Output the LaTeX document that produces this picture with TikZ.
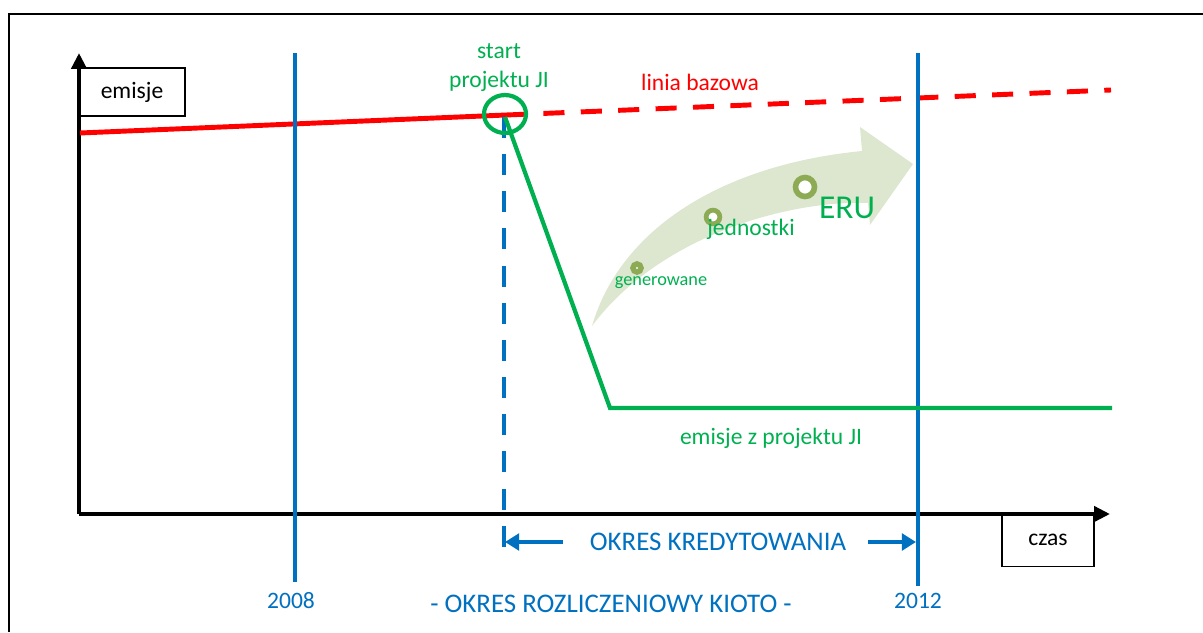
\documentclass[tikz,border=0pt]{standalone}
\usepackage{fontspec}
\setmainfont{Carlito}
\usetikzlibrary{arrows.meta,shapes.geometric}
\definecolor{jred}{RGB}{255,0,0}
\definecolor{jgreen}{RGB}{0,176,80}
\definecolor{jblue}{RGB}{0,112,192}
\definecolor{arrowfill}{RGB}{221,231,208}
\definecolor{olivering}{RGB}{141,170,84}
\begin{document}
\begin{tikzpicture}[x=0.02cm,y=-0.02cm,
  lbl/.style={font=\fontsize{13.4}{16}\selectfont, inner sep=0pt, anchor=base},
  capslbl/.style={lbl, font=\fontsize{15.3}{18}\selectfont},
  labelbox/.style={draw=black, line width=0.9pt, fill=white, inner sep=0pt, font=\fontsize{13.4}{16}\selectfont},
  axisline/.style={line width=2.5pt, -{Triangle[length=9pt,width=8.5pt]}},
  yearline/.style={jblue, line width=2.7pt},
  bluearrow/.style={jblue, line width=2.6pt, -{Triangle[length=8pt,width=9.4pt]}},
  ring/.style={olivering, fill=white},
]
\useasboundingbox (0,0) rectangle (1203,632);
% outer frame
\draw[line width=1.1pt] (9,632) -- (9,14) -- (1203,14);

% big light arrow
\fill[arrowfill] (592,326) .. controls (620,230) and (720,165) .. (862,151)
  -- (860,127) -- (913,164) -- (870,225) -- (868,203)
  .. controls (790,200) and (660,235) .. (592,326) -- cycle;

% boxes
\node[labelbox, minimum width=60.3pt, minimum height=27.3pt] (emisje) at (132,92) {emisje};
\node[labelbox, minimum width=52.3pt, minimum height=30.2pt] (czas) at (1048,540) {czas};

% axes
\coordinate (O) at (79,514);
\coordinate (ytip) at (79,53);
\coordinate (xtip) at (1110,514);
\draw[axisline] (O) -- (ytip);
\draw[axisline] (O) -- (xtip);

% red baseline
\coordinate (r0) at (80,133);
\coordinate (r1) at (506,115);
\coordinate (r2) at (1111,90);
\draw[jred, line width=2.8pt] (r0) -- (r1);
\draw[jred, line width=2.8pt, dash pattern=on 12pt off 9.3pt] (r1) -- (r2);

% blue year lines
\coordinate (y08a) at (295,53);
\coordinate (y08b) at (295,582);
\coordinate (y12a) at (918,53);
\coordinate (y12b) at (918,586);
\draw[yearline] (y08a) -- (y08b);
\draw[yearline] (y12a) -- (y12b);

% blue dashed start line
\coordinate (d0) at (504,117);
\coordinate (d1) at (504,552);
\draw[jblue, line width=2.8pt, dash pattern=on 11.95pt off 9.2pt] (d0) -- (d1);

% green project emissions
\coordinate (g0) at (505,117);
\coordinate (g1) at (610,408);
\coordinate (g2) at (1112,408);
\draw[jgreen, line width=2.4pt, line join=miter] (g0) -- (g1) -- (g2);

% start circle
\node[ellipse, draw=jgreen, line width=2.4pt, minimum width=23.9pt, minimum height=21.6pt, inner sep=0pt] (startc) at (505,114) {};

% crediting period arrows
\coordinate (ka1) at (563,542);
\coordinate (ka2) at (505,542);
\coordinate (kb1) at (868,542);
\coordinate (kb2) at (916,542);
\draw[bluearrow] (ka1) -- (ka2);
\draw[bluearrow] (kb1) -- (kb2);

% rings on arrow
\draw[ring, line width=3.1pt] (637,268) circle[radius=2.3pt];
\draw[ring, line width=2.7pt] (713,217) circle[radius=3.9pt];
\draw[ring, line width=3.2pt] (805,187) circle[radius=5.4pt];

% labels
\node[lbl, text=jgreen] (start) at (499,58.3) {start};
\node[lbl, text=jgreen] (projekt) at (499,87) {projektu JI};
\node[lbl, text=jred] (linia) at (700,90.7) {linia bazowa};
\node[lbl, text=jgreen] (emproj) at (771,444) {emisje z projektu JI};
\node[capslbl, text=jblue] (kred) at (718,550) {OKRES KREDYTOWANIA};
\node[lbl, text=jblue] (y2008) at (291,608.5) {2008};
\node[lbl, text=jblue] (y2012) at (918,608.5) {2012};
\node[capslbl, text=jblue] (kioto) at (611,612) {- OKRES ROZLICZENIOWY KIOTO -};
\node[lbl, text=jgreen, font=\fontsize{10.4}{12}\selectfont] (gen) at (661,285) {generowane};
\node[lbl, text=jgreen, font=\fontsize{13.4}{16}\selectfont] (jedn) at (751,235) {jednostki};
\node[lbl, text=jgreen, font=\fontsize{19}{22}\selectfont] (eru) at (847,218) {ERU};
\end{tikzpicture}
\end{document}
